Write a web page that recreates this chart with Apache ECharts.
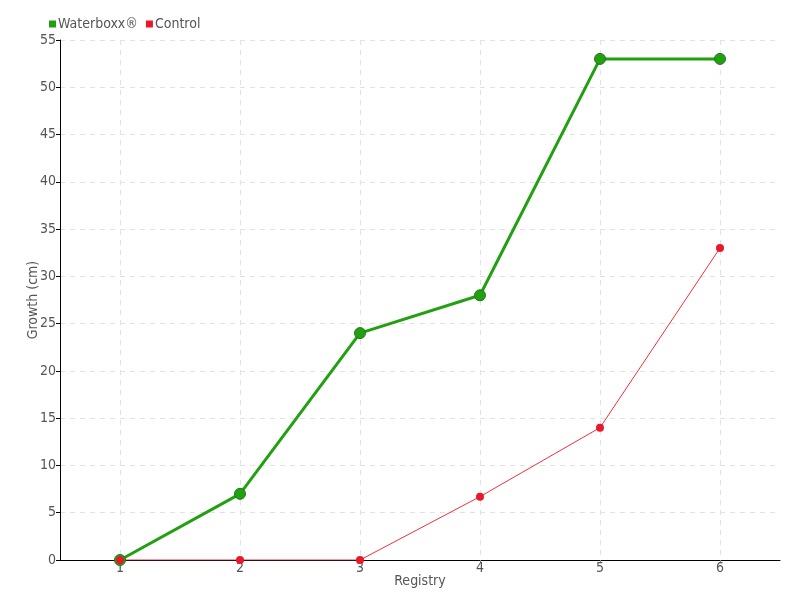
<!DOCTYPE html>
<html><head><meta charset="utf-8">
<script src="https://cdn.jsdelivr.net/npm/echarts@6/dist/echarts.min.js"></script>
<style>html,body{margin:0;padding:0;background:#fff}#c{width:800px;height:600px}</style>
</head><body><div id="c"></div>
<script>
const categories = ['1','2','3','4','5','6'];
const waterboxx = [0, 7, 24, 28, 53, 53];
const control = [0, 0, 0, 6.7, 14, 33];
const yTicks = {min: 0, max: 55, interval: 5};
const FONT = '"DejaVu Sans Condensed", "Roboto Condensed", "Liberation Sans Narrow", "Noto Sans", sans-serif';
const chart = echarts.init(document.getElementById('c'));
chart.setOption({
  animation: false,
  textStyle: {fontFamily: FONT},
  legend: {
    left: 44, top: 12, itemWidth: 7, itemHeight: 7, itemGap: 8,
    icon: 'rect',
    itemStyle: {borderWidth: 0},
    textStyle: {color: '#555', fontSize: 14, fontFamily: FONT, padding: [0,0,0,-3]},
    data: ['Waterboxx®', 'Control']
  },
  grid: {left: 60, right: 20, top: 40, bottom: 40, containLabel: false},
  xAxis: {
    type: 'category', data: categories, boundaryGap: true,
    name: 'Registry', nameLocation: 'middle', nameGap: 14, nameMoveOverlap: false,
    nameTextStyle: {color: '#555', fontSize: 14, fontFamily: FONT},
    axisLine: {lineStyle: {color: '#000'}},
    axisTick: {show: true, alignWithLabel: true, length: 3, lineStyle: {color: '#888'}},
    splitLine: {show: true, alignWithLabel: true, lineStyle: {color: '#e2e2e2', type: [5,5]}},
    axisLabel: {color: '#555', fontSize: 14, margin: 1, fontFamily: FONT}
  },
  yAxis: {
    type: 'value', min: yTicks.min, max: yTicks.max, interval: yTicks.interval,
    name: 'Growth (cm)', nameLocation: 'middle', nameGap: 20, nameMoveOverlap: false,
    nameTextStyle: {color: '#555', fontSize: 14, fontFamily: FONT},
    axisLine: {show: true, lineStyle: {color: '#000'}},
    axisTick: {show: true, length: 4, lineStyle: {color: '#000'}},
    splitLine: {show: true, lineStyle: {color: '#e2e2e2', type: [5,5]}},
    axisLabel: {color: '#555', fontSize: 14, margin: 4, fontFamily: FONT}
  },
  series: [
    {
      name: 'Waterboxx®', type: 'line', data: waterboxx,
      symbol: 'circle', symbolSize: 11,
      lineStyle: {color: '#22a012', width: 3},
      itemStyle: {color: '#22a012', borderColor: '#1a7a10', borderWidth: 1}
    },
    {
      name: 'Control', type: 'line', data: control,
      symbol: 'circle', symbolSize: 8,
      lineStyle: {color: '#f0303c', width: 1},
      itemStyle: {color: '#e8192c', borderColor: '#e8192c', borderWidth: 0}
    }
  ]
});
</script></body></html>
